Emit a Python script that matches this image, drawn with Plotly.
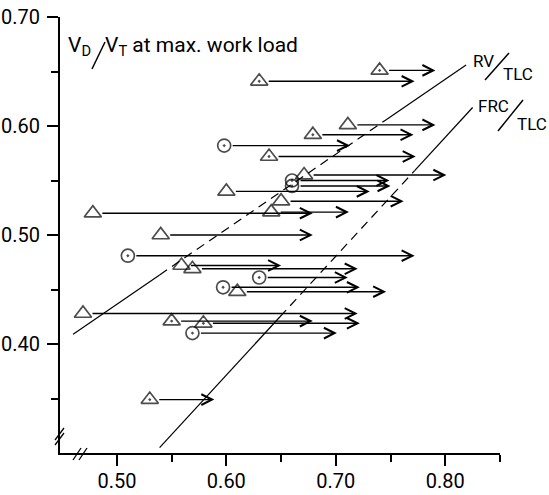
import plotly.graph_objects as go

# ---------------- data ----------------
x_start = [0.740, 0.630, 0.711, 0.679, 0.598, 0.639, 0.671, 0.660, 0.660, 0.600,
           0.650, 0.641, 0.478, 0.540, 0.510, 0.559, 0.569, 0.630, 0.597, 0.610,
           0.469, 0.550, 0.579, 0.569, 0.530]
vd_vt = [0.651, 0.641, 0.601, 0.592, 0.582, 0.572, 0.555, 0.550, 0.545, 0.540,
         0.531, 0.521, 0.520, 0.500, 0.481, 0.472, 0.469, 0.461, 0.452, 0.448,
         0.428, 0.421, 0.419, 0.410, 0.349]
x_end = [0.791, 0.772, 0.791, 0.771, 0.713, 0.773, 0.801, 0.749, 0.750, 0.731,
         0.762, 0.712, 0.679, 0.679, 0.772, 0.650, 0.720, 0.711, 0.722, 0.746,
         0.720, 0.679, 0.722, 0.701, 0.589]
group = ['td', 'td', 't', 'td', 'cd', 'td', 't', 'cd', 'cd', 't',
         't', 't', 't', 't', 'cd', 't', 't', 'cd', 'cd', 't',
         't', 'td', 'td', 'cd', 'td']

# reference lines (solid / dashed / solid pieces)
rv_x = [0.460, 0.539, 0.746, 0.819]
rv_y = [0.409, 0.4634, 0.6058, 0.656]
frc_x = [0.539, 0.649, 0.772, 0.825]
frc_y = [0.305, 0.425, 0.559, 0.617]

x_ticks = [0.50, 0.60, 0.70, 0.80]
x_ticktext = ['0.50', '0.60', '0.70', '0.80']
x_minor = [0.55, 0.65, 0.75, 0.85]
y_ticks = [0.40, 0.50, 0.60, 0.70]
y_ticktext = ['0.40', '0.50', '0.60', '0.70']
y_minor = [0.35, 0.45, 0.55, 0.65]

symbol_map = {'t': 'triangle-up-open', 'td': 'triangle-up-open-dot', 'cd': 'circle-open-dot'}
size_map = {'t': 15, 'td': 15, 'cd': 13}

FONT = "Roboto, sans-serif"
W, H = 549, 495
L, R, T, B = 60, 49, 17, 42


def px(xp):
    return (xp - L) / (W - L - R)


def py(yp):
    return (H - B - yp) / (H - T - B)


fig = go.Figure()

# reference lines
styles = ['solid', '9px,6px', 'solid']
for xs, ys in ((rv_x, rv_y), (frc_x, frc_y)):
    for i in range(3):
        fig.add_trace(go.Scatter(x=xs[i:i + 2], y=ys[i:i + 2], mode='lines',
                                 line=dict(color='black', width=1.2, dash=styles[i]),
                                 hoverinfo='skip', showlegend=False))

# markers
fig.add_trace(go.Scatter(
    x=x_start, y=vd_vt, mode='markers',
    marker=dict(symbol=[symbol_map[g] for g in group],
                size=[size_map[g] for g in group],
                color='black', line=dict(color='black', width=1.7)),
    showlegend=False))

annotations = []
for xs, y, xe, g in zip(x_start, vd_vt, x_end, group):
    annotations.append(dict(
        x=xe, y=y, ax=xs, ay=y, xref='x', yref='y', axref='x', ayref='y',
        text='', showarrow=True, arrowhead=5, arrowwidth=1.4, arrowsize=1.5,
        arrowcolor='black', startstandoff=8 if g != 'cd' else 7, standoff=0))

txt = dict(showarrow=False, xref='paper', yref='paper', xanchor='left', yanchor='middle')
big = dict(family=FONT, size=21, color='black')
small = dict(family=FONT, size=17, color='black')
annotations += [
    dict(text='V<sub>D</sub>', x=px(66), y=py(46), font=big, **txt),
    dict(text='V<sub>T</sub> at max. work load', x=px(103), y=py(46), font=big, **txt),
    dict(text='RV', x=px(471), y=py(61), font=small, **txt),
    dict(text='TLC', x=px(501), y=py(74), font=small, **txt),
    dict(text='FRC', x=px(476), y=py(106), font=small, **txt),
    dict(text='TLC', x=px(515), y=py(124), font=small, **txt),
]

shapes = []
for (x0, y0, x1, y1) in [(92, 69, 105, 42), (485, 80, 509, 53), (498, 131, 523, 100)]:
    shapes.append(dict(type='line', xref='paper', yref='paper',
                       x0=px(x0), y0=py(y0), x1=px(x1), y1=py(y1),
                       line=dict(color='black', width=1.5)))
# axis break marks
for (x0, y0, x1, y1) in [(55, 445, 64, 433), (55, 440, 64, 428),
                         (73, 460, 81, 448), (79, 460, 87, 448)]:
    shapes.append(dict(type='line', xref='paper', yref='paper',
                       x0=px(x0), y0=py(y0), x1=px(x1), y1=py(y1),
                       line=dict(color='black', width=1.3)))

axis_common = dict(showline=True, linecolor='black', linewidth=2, showgrid=False,
                   zeroline=False, ticks='outside', ticklen=11, tickwidth=2,
                   automargin=False,
                   tickcolor='black', tickfont=dict(family=FONT, size=20, color='black'))

fig.update_layout(
    width=W, height=H, margin=dict(l=L, r=R, t=T, b=B),
    paper_bgcolor='white', plot_bgcolor='white',
    xaxis=dict(range=[0.448, 0.85], tickvals=x_ticks, ticktext=x_ticktext,
               ticklabelstandoff=-2,
               minor=dict(tickvals=x_minor, ticklen=7, tickwidth=1.5, ticks='outside',
                          tickcolor='black'),
               **axis_common),
    yaxis=dict(range=[0.30, 0.70], tickvals=y_ticks, ticktext=y_ticktext,
               ticklabelstandoff=3,
               minor=dict(tickvals=y_minor, ticklen=7, tickwidth=1.5, ticks='outside',
                          tickcolor='black'),
               **axis_common),
    annotations=annotations, shapes=shapes, showlegend=False,
)

fig.write_html("out.html")
